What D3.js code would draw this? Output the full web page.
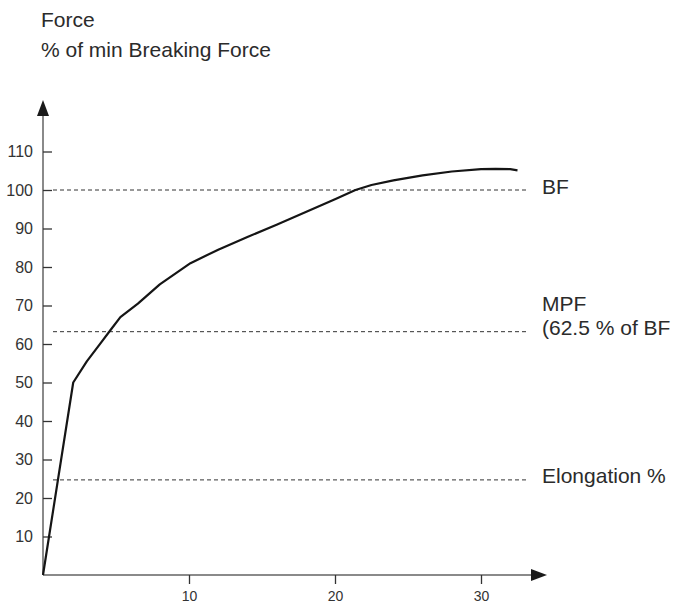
<!DOCTYPE html>
<html>
<head>
<meta charset="utf-8">
<script src="https://cdn.jsdelivr.net/npm/d3@7"></script>
<style>
  body { margin: 0; background: #fff; }
  text { font-family: "Liberation Sans", Arial, sans-serif; fill: #2b2b2b; }
  .axis path { display: none; }
  .axis line { stroke: #333; stroke-width: 1.3; }
  .ref { stroke: #333; stroke-width: 1; stroke-dasharray: 4,3; }
  .curve { fill: none; stroke: #151515; stroke-width: 2.2; stroke-linejoin: round; }
</style>
</head>
<body>
<div id="chart"></div>
<script>
// elongation % / force % of min breaking force
var elong = [0, 2.07, 3.0, 4.0, 4.6, 5.3, 6.5, 8.0, 10.1, 12, 14, 16, 18, 20, 21.4, 22.5, 24, 26, 28, 30, 31, 32, 32.5];
var force = [0, 50, 55.5, 60.5, 63.5, 67, 70.5, 75.5, 81, 84.5, 87.8, 91, 94.3, 97.6, 100, 101.3, 102.5, 103.8, 104.8, 105.4, 105.5, 105.4, 105.1];

var xTicks = [10, 20, 30];
var yTicks = [10, 20, 30, 40, 50, 60, 70, 80, 90, 100, 110];

// dashed reference levels and their labels
var refValues = [100, 63.2, 24.7];
var refLabels = [["BF"], ["MPF", "(62.5 % of BF"], ["Elongation %"]];

var titleLines = ["Force", "% of min Breaking Force"];

var width = 675, height = 603;

var svg = d3.select("#chart")
    .append("svg")
    .attr("width", width)
    .attr("height", height);

var x = d3.scaleLinear()
  .domain([0, 30])
  .range([43, 481]);

var y = d3.scaleLinear()
  .domain([0, 110])
  .range([575, 151.5]);

// title
svg.selectAll(".title")
    .data(titleLines)
  .enter().append("text")
    .attr("class", "title")
    .attr("x", 41)
    .attr("y", function(d, i){ return 27 + i * 29.5; })
    .style("font-size", "21px")
    .text(function(d){ return d; });

// reference lines
svg.selectAll(".ref")
    .data(refValues)
  .enter().append("line")
    .attr("class", "ref")
    .attr("x1", 53)
    .attr("x2", 527)
    .attr("y1", function(d){ return y(d); })
    .attr("y2", function(d){ return y(d); });

refLabels.forEach(function(lines, i){
  var n = lines.length;
  lines.forEach(function(t, j){
    svg.append("text")
      .attr("x", 542)
      .attr("y", y(refValues[i]) + 3.5 - (n - 1 - j) * 24.5)
      .style("font-size", "21px")
      .text(t);
  });
});

// axes lines
svg.append("line")
    .attr("x1", x(0)).attr("y1", y(0))
    .attr("x2", x(0)).attr("y2", 112)
    .style("stroke", "#8a8a8a")
    .style("stroke-width", 2);

svg.append("line")
    .attr("x1", x(0)).attr("y1", y(0))
    .attr("x2", 536).attr("y2", y(0))
    .style("stroke", "#8a8a8a")
    .style("stroke-width", 2);

// arrow heads
svg.append("path")
    .attr("d", "M" + x(0) + ",100 L" + (x(0) + 6) + ",116 L" + (x(0) - 6) + ",116 Z")
    .style("fill", "#1a1a1a");

svg.append("path")
    .attr("d", "M547," + y(0) + " L531," + (y(0) - 6) + " L531," + (y(0) + 6) + " Z")
    .style("fill", "#1a1a1a");

var yAxis = d3.axisLeft(y)
  .tickValues(yTicks)
  .tickSizeInner(-9)
  .tickSizeOuter(0)
  .tickPadding(10);

svg.append("g")
    .attr("class", "y axis")
    .attr("transform", "translate(" + x(0) + ",0)")
    .call(yAxis)
  .selectAll("text")
    .style("font-size", "16px")
    .style("font-family", "Liberation Sans, Arial, sans-serif")
    .style("fill", "#333");

var xAxis = d3.axisBottom(x)
  .tickValues(xTicks)
  .tickSizeInner(9)
  .tickSizeOuter(0)
  .tickPadding(7);

svg.append("g")
    .attr("class", "x axis")
    .attr("transform", "translate(0," + y(0) + ")")
    .call(xAxis)
  .selectAll("text")
    .style("font-size", "14px")
    .style("font-family", "Liberation Sans, Arial, sans-serif")
    .style("fill", "#333");

// force-elongation curve
var pts = elong.map(function(d, i){ return [d, force[i]]; });

var line = d3.line()
  .x(function(d){ return x(d[0]); })
  .y(function(d){ return y(d[1]); });

svg.append("path")
    .datum(pts)
    .attr("class", "curve")
    .attr("d", line);
</script>
</body>
</html>
